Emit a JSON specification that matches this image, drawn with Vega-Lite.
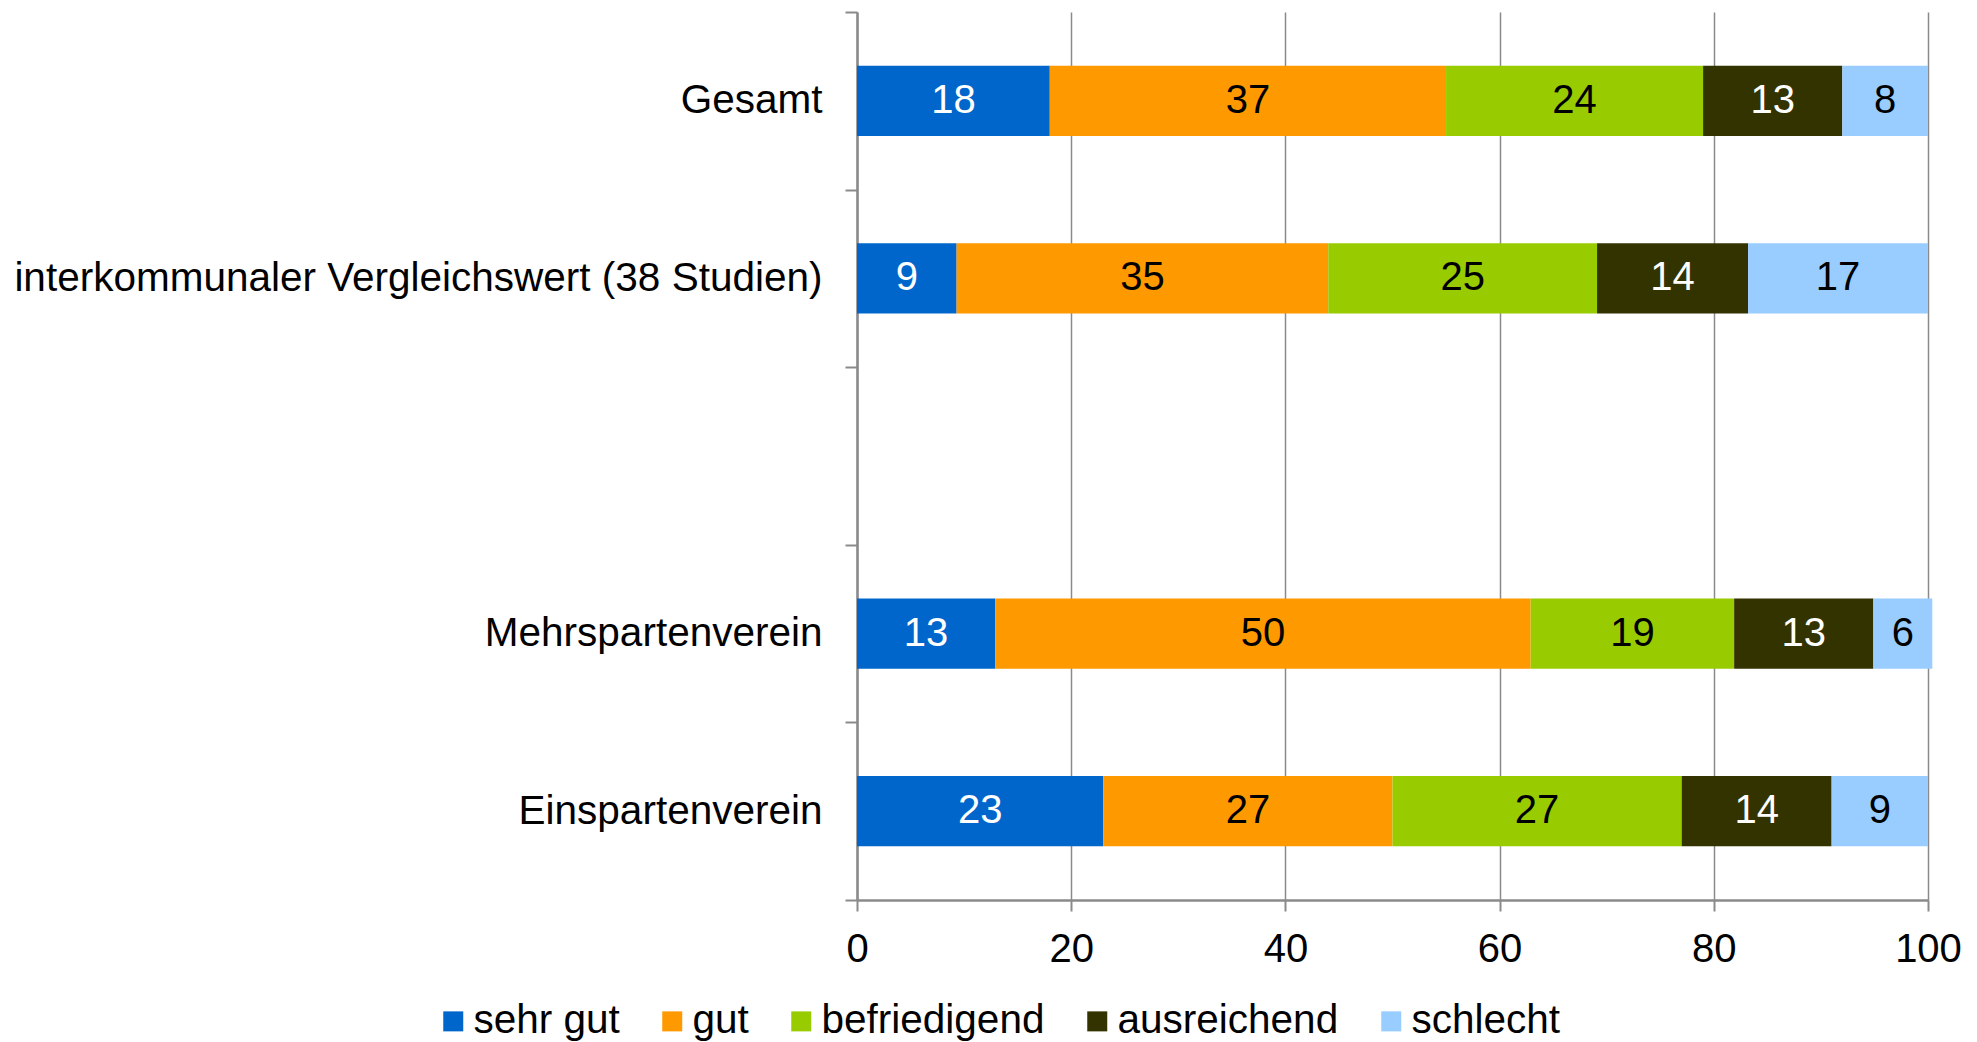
{
  "$schema": "https://vega.github.io/schema/vega-lite/v6.json",
  "autosize": {"type": "none"},
  "padding": {"left": 857, "top": 12, "right": 49, "bottom": 142},
  "width": 1071,
  "height": 888,
  "background": "white",
  "config": {
    "view": {"stroke": null},
    "font": "Liberation Sans",
    "axis": {"labelFont": "Liberation Sans", "labelColor": "black"},
    "legend": {"labelFont": "Liberation Sans"}
  },
  "data": {
    "values": [
      {"cat": "Gesamt", "grade": "sehr gut", "rank": 1, "value": 18},
      {"cat": "Gesamt", "grade": "gut", "rank": 2, "value": 37},
      {"cat": "Gesamt", "grade": "befriedigend", "rank": 3, "value": 24},
      {"cat": "Gesamt", "grade": "ausreichend", "rank": 4, "value": 13},
      {"cat": "Gesamt", "grade": "schlecht", "rank": 5, "value": 8},
      {"cat": "interkommunaler Vergleichswert (38 Studien)", "grade": "sehr gut", "rank": 1, "value": 9.3},
      {"cat": "interkommunaler Vergleichswert (38 Studien)", "grade": "gut", "rank": 2, "value": 34.7},
      {"cat": "interkommunaler Vergleichswert (38 Studien)", "grade": "befriedigend", "rank": 3, "value": 25.1},
      {"cat": "interkommunaler Vergleichswert (38 Studien)", "grade": "ausreichend", "rank": 4, "value": 14.1},
      {"cat": "interkommunaler Vergleichswert (38 Studien)", "grade": "schlecht", "rank": 5, "value": 16.8},
      {"cat": "Mehrspartenverein", "grade": "sehr gut", "rank": 1, "value": 12.9},
      {"cat": "Mehrspartenverein", "grade": "gut", "rank": 2, "value": 50.0},
      {"cat": "Mehrspartenverein", "grade": "befriedigend", "rank": 3, "value": 19.0},
      {"cat": "Mehrspartenverein", "grade": "ausreichend", "rank": 4, "value": 13.0},
      {"cat": "Mehrspartenverein", "grade": "schlecht", "rank": 5, "value": 5.5},
      {"cat": "Einspartenverein", "grade": "sehr gut", "rank": 1, "value": 23},
      {"cat": "Einspartenverein", "grade": "gut", "rank": 2, "value": 27},
      {"cat": "Einspartenverein", "grade": "befriedigend", "rank": 3, "value": 27},
      {"cat": "Einspartenverein", "grade": "ausreichend", "rank": 4, "value": 14},
      {"cat": "Einspartenverein", "grade": "schlecht", "rank": 5, "value": 9}
    ]
  },
  "transform": [
    {"stack": "value", "groupby": ["cat"], "sort": [{"field": "rank", "order": "ascending"}], "as": ["x0", "x1"]}
  ],
  "encoding": {
    "y": {
      "field": "cat",
      "type": "nominal",
      "title": null,
      "scale": {
        "domain": ["Gesamt", "interkommunaler Vergleichswert (38 Studien)", " ", "Mehrspartenverein", "Einspartenverein"],
        "paddingInner": 0,
        "paddingOuter": 0
      },
      "axis": {
        "tickBand": "extent",
        "domainColor": "#8a8a8a",
        "domainWidth": 2.5,
        "tickColor": "#8a8a8a",
        "tickWidth": 2,
        "tickSize": 12,
        "labelFontSize": 40.5,
        "labelPadding": 23,
        "labelLimit": 1000,
        "labelColor": "black",
        "grid": false
      }
    }
  },
  "layer": [
    {
      "mark": {"type": "bar", "height": {"band": 0.396}},
      "encoding": {
        "x": {
          "field": "x0",
          "type": "quantitative",
          "title": null,
          "scale": {"domain": [0, 100], "nice": false, "zero": true},
          "axis": {
            "values": [0, 20, 40, 60, 80, 100],
            "grid": true,
            "gridColor": "#8a8a8a",
            "gridWidth": 1.5,
            "domainColor": "#8a8a8a",
            "domainWidth": 2.5,
            "tickColor": "#8a8a8a",
            "tickWidth": 2,
            "tickSize": 11,
            "labelFontSize": 40,
            "labelPadding": 18,
            "labelColor": "black",
            "labelFlush": false,
            "labelOverlap": false
          }
        },
        "x2": {"field": "x1"},
        "color": {
          "field": "grade",
          "type": "nominal",
          "scale": {
            "domain": ["sehr gut", "gut", "befriedigend", "ausreichend", "schlecht"],
            "range": ["#0066CC", "#FF9900", "#99CC00", "#333300", "#99CCFF"]
          },
          "legend": {
            "title": null,
            "orient": "none",
            "legendX": -424,
            "legendY": 989,
            "direction": "horizontal",
            "columns": 5,
            "symbolType": "square",
            "symbolSize": 400,
            "symbolStrokeWidth": 0,
            "symbolOpacity": 1,
            "labelFontSize": 40.5,
            "labelColor": "black",
            "labelOffset": 0,
            "columnPadding": 32,
            "labelLimit": 400
          }
        }
      }
    },
    {
      "transform": [
        {"fold": ["x0", "x1"], "as": ["edge", "pos"]},
        {"aggregate": [{"op": "mean", "field": "pos", "as": "mid"}], "groupby": ["cat", "grade", "value"]}
      ],
      "mark": {"type": "text", "fontSize": 40, "baseline": "middle", "align": "center", "font": "Liberation Sans"},
      "encoding": {
        "x": {"field": "mid", "type": "quantitative"},
        "text": {"field": "value", "type": "quantitative", "format": ".0f"},
        "color": {
          "condition": {"test": "datum.grade === 'sehr gut' || datum.grade === 'ausreichend'", "value": "white"},
          "value": "black"
        }
      }
    }
  ]
}
